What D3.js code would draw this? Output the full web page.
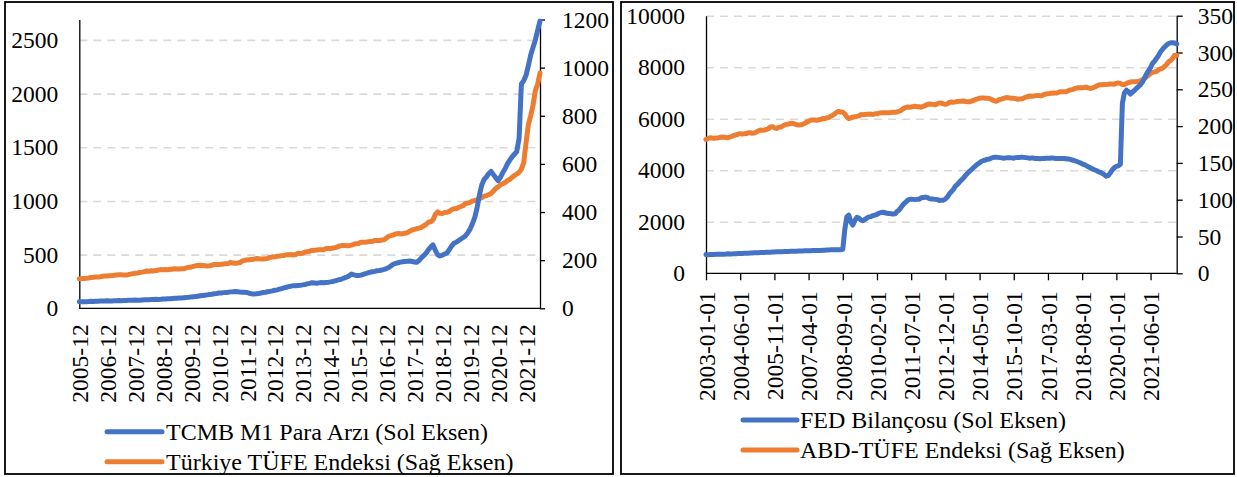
<!DOCTYPE html>
<html>
<head>
<meta charset="utf-8">
<script src="https://cdn.jsdelivr.net/npm/d3@7"></script>
<style>
  body { margin: 0; background: #fff; }
  svg { display: block; }
</style>
</head>
<body>
<svg id="chart" width="1237" height="477"></svg>
<script>
// ---------- Türkiye: monthly, 2005-12 .. 2022-06 ----------
const trStart = "2005-12";
const trM1 = [61,
  60, 61, 62, 63, 65, 64, 66, 65, 67, 68, 68, 70,
  68, 69, 70, 71, 72, 71, 73, 72, 74, 74, 75, 77,
  75, 76, 78, 79, 80, 79, 81, 82, 84, 83, 84, 87,
  86, 88, 89, 91, 93, 94, 96, 97, 99, 101, 103, 106,
  108, 110, 113, 116, 119, 122, 125, 128, 131, 135, 138, 142,
  143, 146, 148, 150, 153, 154, 156, 155, 152, 150, 149, 148,
  140, 136, 133, 135, 138, 142, 147, 150, 154, 158, 162, 168,
  172, 178, 184, 190, 196, 202, 206, 211, 210, 213, 215, 218,
  222, 227, 232, 238, 236, 234, 237, 240, 238, 241, 243, 246,
  250, 256, 262, 268, 275, 283, 292, 302, 319, 312, 306, 305,
  309, 315, 322, 330, 336, 340, 344, 350, 352, 356, 362, 370,
  380, 395, 412, 418, 424, 430, 433, 436, 438, 440, 436, 432,
  428, 445, 470, 490, 512, 545, 570, 590, 540, 500, 487, 495,
  505, 515, 545, 580, 605, 615, 630, 645, 660, 675, 705, 740,
  790, 850, 940, 1060, 1150, 1200, 1225, 1255, 1275, 1245, 1215, 1190,
  1220, 1265, 1300, 1345, 1380, 1410, 1435, 1460, 1580, 2090, 2120, 2170,
  2260, 2360, 2430, 2500, 2590, 2675];
const trCPI = [122.65,
  123.57, 124.18, 124.56, 126.11, 128.20, 128.63, 130.12, 129.89, 131.05, 132.90, 134.04, 134.49,
  135.23, 135.99, 137.18, 138.60, 139.03, 138.93, 138.25, 138.19, 139.62, 142.09, 144.00, 145.77,
  146.94, 148.84, 150.27, 152.52, 155.13, 154.31, 155.91, 155.40, 156.84, 159.25, 160.82, 160.44,
  160.90, 160.35, 162.12, 162.15, 164.58, 163.78, 163.29, 163.93, 164.68, 167.71, 170.22, 170.91,
  174.07, 176.59, 177.62, 178.68, 178.04, 177.04, 176.19, 176.90, 179.07, 182.35, 182.40, 181.85,
  182.60, 183.93, 184.70, 186.30, 190.81, 188.08, 187.31, 188.42, 190.09, 196.31, 199.70, 200.85,
  201.98, 203.12, 203.96, 206.65, 206.34, 204.76, 204.58, 205.43, 207.72, 211.38, 214.02, 213.23,
  216.74, 217.39, 218.83, 219.75, 222.21, 222.54, 223.20, 221.64, 223.70, 228.57, 227.58, 229.01,
  233.54, 234.54, 237.18, 240.37, 241.32, 242.07, 243.17, 243.40, 243.74, 248.37, 248.78, 247.72,
  250.45, 252.24, 255.23, 259.39, 260.85, 260.50, 260.04, 260.36, 262.63, 266.18, 268.65, 269.54,
  274.45, 274.36, 274.46, 276.08, 277.63, 278.26, 281.92, 281.62, 281.88, 284.03, 285.21, 292.54,
  299.74, 302.17, 305.24, 309.23, 310.61, 309.78, 310.24, 311.85, 313.87, 320.40, 325.19, 327.41,
  330.75, 333.17, 336.48, 342.78, 348.34, 357.43, 359.40, 366.76, 389.78, 400.71, 395.00, 393.88,
  398.07, 398.71, 402.81, 409.62, 413.51, 413.67, 419.31, 422.91, 427.10, 435.64, 437.29, 440.50,
  446.45, 448.01, 450.57, 454.43, 460.60, 465.80, 468.50, 472.53, 477.21, 487.38, 498.58, 504.81,
  513.30, 517.54, 522.44, 531.31, 535.77, 544.30, 551.57, 557.90, 564.97, 578.47, 604.84, 686.95,
  763.23, 799.93, 843.64, 904.79, 931.76, 977.90];
const trTickLabels = ["2005-12", "2006-12", "2007-12", "2008-12", "2009-12", "2010-12",
  "2011-12", "2012-12", "2013-12", "2014-12", "2015-12", "2016-12", "2017-12", "2018-12",
  "2019-12", "2020-12", "2021-12"];
const trLeftTicks = [0, 500, 1000, 1500, 2000, 2500];
const trRightTicks = [0, 200, 400, 600, 800, 1000, 1200];
const trLegend = ["TCMB M1 Para Arzı (Sol Eksen)", "Türkiye TÜFE Endeksi (Sağ Eksen)"];

// ---------- ABD: monthly, 2003-01 .. 2022-07 ----------
const usStart = "2003-01";
const fedAssets = [
  725, 722, 726, 731, 734, 736, 735, 737, 740, 744, 748, 755,
  752, 754, 758, 763, 768, 770, 772, 775, 779, 783, 788, 792,
  796, 797, 800, 803, 806, 810, 813, 815, 819, 823, 828, 833,
  834, 836, 840, 843, 846, 849, 852, 853, 856, 860, 864, 868,
  870, 872, 874, 877, 880, 882, 884, 886, 884, 887, 891, 894,
  900, 905, 910, 912, 910, 912, 915, 918, 935, 1700, 2190, 2260,
  1990, 1875, 2050, 2170, 2140, 2070, 2040, 2090, 2150, 2190, 2200, 2240,
  2260, 2290, 2330, 2360, 2370, 2350, 2330, 2320, 2310, 2300, 2310, 2400,
  2460, 2560, 2670, 2740, 2820, 2870, 2880, 2870, 2860, 2870, 2870, 2930,
  2940, 2960, 2940, 2900, 2880, 2880, 2870, 2860, 2830, 2840, 2840, 2880,
  2960, 3080, 3170, 3260, 3380, 3450, 3540, 3620, 3700, 3800, 3880, 3960,
  4030, 4100, 4170, 4240, 4290, 4350, 4380, 4400, 4430, 4440, 4480, 4500,
  4510, 4500, 4490, 4480, 4470, 4480, 4490, 4490, 4480, 4470, 4490, 4500,
  4500, 4510, 4500, 4490, 4480, 4470, 4480, 4470, 4460, 4460, 4450, 4460,
  4460, 4470, 4470, 4470, 4480, 4470, 4460, 4460, 4460, 4460, 4460, 4450,
  4440, 4420, 4400, 4380, 4350, 4320, 4290, 4250, 4220, 4180, 4140, 4100,
  4060, 4020, 3990, 3950, 3920, 3880, 3830, 3770, 3790, 3900, 4020, 4100,
  4150, 4170, 4240, 6600, 7000, 7110, 7050, 6960, 7030, 7100, 7180, 7250,
  7320, 7430, 7580, 7740, 7860, 7990, 8150, 8240, 8350, 8460, 8600, 8700,
  8790, 8860, 8920, 8950, 8950, 8940, 8900];
const usCPI = [
  181.7, 183.1, 184.2, 183.8, 183.5, 183.7, 183.9, 184.6, 185.2, 185.0, 184.5, 184.3,
  185.2, 186.2, 187.4, 188.0, 189.1, 189.7, 189.4, 189.5, 189.9, 190.9, 191.0, 190.3,
  190.7, 191.8, 193.3, 194.6, 194.4, 194.5, 195.4, 196.4, 198.8, 199.2, 197.6, 196.8,
  198.3, 198.7, 199.8, 201.5, 202.5, 202.9, 203.5, 203.9, 202.9, 201.8, 201.5, 201.8,
  202.4, 203.5, 205.4, 206.7, 207.9, 208.4, 208.3, 207.9, 208.5, 208.9, 210.2, 210.0,
  211.1, 211.7, 213.5, 214.8, 216.6, 218.8, 220.0, 219.1, 218.8, 216.6, 212.4, 210.2,
  211.1, 212.2, 212.7, 213.2, 213.9, 215.7, 215.4, 215.8, 216.0, 216.2, 216.3, 215.9,
  216.7, 216.7, 217.6, 218.0, 218.2, 218.0, 218.0, 218.3, 218.4, 218.7, 218.8, 219.2,
  220.2, 221.3, 223.5, 224.9, 226.0, 225.7, 225.9, 226.5, 226.9, 226.4, 226.2, 225.7,
  226.7, 227.7, 229.4, 230.1, 229.8, 229.5, 229.1, 230.4, 231.4, 231.3, 230.2, 229.6,
  230.3, 232.2, 232.8, 232.5, 232.9, 233.5, 233.6, 233.9, 234.1, 233.5, 233.1, 233.0,
  233.9, 234.8, 236.3, 237.1, 237.9, 238.3, 238.3, 237.9, 238.0, 237.4, 236.2, 234.8,
  233.7, 234.7, 236.1, 236.6, 237.8, 238.6, 238.7, 238.3, 237.9, 237.8, 237.3, 236.5,
  236.9, 237.1, 238.1, 239.3, 240.2, 241.0, 240.6, 240.8, 241.4, 241.7, 241.4, 241.4,
  242.8, 243.6, 243.8, 244.5, 244.7, 245.0, 244.8, 245.5, 246.8, 246.7, 246.7, 246.5,
  247.9, 249.0, 249.6, 250.5, 251.6, 252.0, 252.0, 252.1, 252.4, 252.9, 252.0, 251.2,
  251.7, 252.8, 254.2, 255.5, 256.1, 256.1, 256.6, 256.6, 256.8, 257.3, 257.2, 257.0,
  258.0, 258.7, 258.1, 256.4, 256.4, 257.8, 259.1, 259.9, 260.3, 260.4, 260.2, 260.5,
  261.6, 263.0, 264.9, 267.1, 269.2, 271.7, 273.0, 273.6, 274.3, 276.6, 277.9, 278.8,
  281.1, 283.7, 287.5, 289.1, 292.3, 296.3, 296.3];
const usTickLabels = ["2003-01-01", "2004-06-01", "2005-11-01", "2007-04-01", "2008-09-01",
  "2010-02-01", "2011-07-01", "2012-12-01", "2014-05-01", "2015-10-01", "2017-03-01",
  "2018-08-01", "2020-01-01", "2021-06-01"];
const usLeftTicks = [0, 2000, 4000, 6000, 8000, 10000];
const usRightTicks = [0, 50, 100, 150, 200, 250, 300, 350];
const usLegend = ["FED Bilançosu (Sol Eksen)", "ABD-TÜFE Endeksi (Sağ Eksen)"];

const BLUE = "#4472C4", ORANGE = "#ED7D31";
const SERIF = '"Liberation Serif", "Times New Roman", serif';
const TICK_FONT = 23.5, LEGEND_FONT = 24;

// month categories from a start month and a count
function monthCategories(start, n, fmt) {
  const t0 = d3.timeParse("%Y-%m")(start);
  const t1 = d3.timeMonth.offset(t0, n);
  return d3.timeMonth.range(t0, t1).map(d3.timeFormat(fmt));
}

const svg = d3.select("#chart");

function drawPanel(cfg) {
  const g = svg.append("g");
  g.append("rect")
    .attr("x", cfg.box[0]).attr("y", cfg.box[1])
    .attr("width", cfg.box[2]).attr("height", cfg.box[3])
    .attr("fill", "#fff").attr("stroke", "#000").attr("stroke-width", 1.8);

  const [x0, x1, yT, yB] = cfg.plot;
  const x = d3.scalePoint().domain(cfg.categories).range([x0, x1]);
  const yL = d3.scaleLinear().domain(cfg.leftDomain).range([yB, yT]);
  const yR = d3.scaleLinear().domain(cfg.rightDomain).range([yB, yT]);

  // dashed horizontal gridlines on the left-axis ticks
  const grid = g.append("g").attr("transform", `translate(${x0},0)`)
    .call(d3.axisLeft(yL).tickValues(cfg.leftTicks.filter(v => v > 0))
      .tickSize(-(x1 - x0)).tickFormat(""));
  grid.select(".domain").remove();
  grid.selectAll("line").attr("stroke", "#d9d9d9").attr("stroke-width", 1.6)
    .attr("stroke-dasharray", "8,6");

  // left axis (labels only, no tick marks)
  const axL = g.append("g").attr("transform", `translate(${x0},0)`)
    .call(d3.axisLeft(yL).tickValues(cfg.leftTicks).tickSize(0).tickSizeOuter(0)
      .tickPadding(cfg.padL).tickFormat(d3.format("d")));
  // right axis
  const axR = g.append("g").attr("transform", `translate(${x1},0)`)
    .call(d3.axisRight(yR).tickValues(cfg.rightTicks).tickSize(cfg.tickR).tickSizeOuter(0)
      .tickPadding(cfg.padR).tickFormat(d3.format("d")));
  // category axis
  const axB = g.append("g").attr("transform", `translate(0,${yB})`)
    .call(d3.axisBottom(x).tickValues(cfg.tickLabels).tickSize(cfg.tickB).tickSizeOuter(0));
  axB.selectAll("text")
    .attr("transform", "rotate(-90)")
    .attr("text-anchor", "end")
    .attr("x", -cfg.labelGap).attr("y", 0).attr("dy", "0.35em");

  [axL, axR, axB].forEach(a => {
    a.attr("font-family", null).attr("font-size", null);
    a.selectAll("text").style("font-family", SERIF)
      .style("font-size", TICK_FONT + "px").attr("fill", "#000");
    a.selectAll(".domain, line").attr("stroke", "#000").attr("stroke-width", 1.3);
  });
  axB.select(".domain").attr("d", `M${x0},0H${x1}`);

  const lineL = d3.line().x((d, i) => x(cfg.categories[i])).y(d => yL(d));
  const lineR = d3.line().x((d, i) => x(cfg.categories[i])).y(d => yR(d));
  g.append("path").datum(cfg.right).attr("d", lineR)
    .attr("fill", "none").attr("stroke", ORANGE).attr("stroke-width", cfg.lw)
    .attr("stroke-linejoin", "round").attr("stroke-linecap", "round");
  g.append("path").datum(cfg.left).attr("d", lineL)
    .attr("fill", "none").attr("stroke", BLUE).attr("stroke-width", cfg.lw)
    .attr("stroke-linejoin", "round").attr("stroke-linecap", "round");

  // legend
  const colors = [BLUE, ORANGE];
  cfg.legend.forEach((name, i) => {
    const ly = cfg.legendY[i];
    g.append("line").attr("x1", cfg.legendX[0]).attr("x2", cfg.legendX[1])
      .attr("y1", ly).attr("y2", ly).attr("stroke", colors[i])
      .attr("stroke-width", 5).attr("stroke-linecap", "round");
    g.append("text").attr("x", cfg.legendX[2]).attr("y", ly).attr("dy", "0.35em")
      .style("font-family", SERIF).style("font-size", LEGEND_FONT + "px")
      .attr("fill", "#000").text(name);
  });
}

drawPanel({
  box: [5, 2, 608, 472],
  plot: [79.3, 540, 19.5, 308.3],
  categories: monthCategories(trStart, trM1.length, "%Y-%m"),
  left: trM1, right: trCPI,
  leftDomain: [0, 2690], rightDomain: [0, 1200],
  leftTicks: trLeftTicks, rightTicks: trRightTicks,
  tickLabels: trTickLabels,
  padL: 21, tickR: 5, padR: 17, tickB: 0, labelGap: 16,
  lw: 5,
  legend: trLegend, legendX: [107, 162, 166], legendY: [431.7, 461.7]
});

drawPanel({
  box: [621, 2, 613, 472],
  plot: [706, 1176.7, 15.7, 273.3],
  categories: monthCategories(usStart, fedAssets.length, "%Y-%m-%d"),
  left: fedAssets, right: usCPI,
  leftDomain: [0, 10000], rightDomain: [0, 350],
  leftTicks: usLeftTicks, rightTicks: usRightTicks,
  tickLabels: usTickLabels,
  padL: 21, tickR: 6, padR: 15, tickB: 7, labelGap: 18,
  lw: 5,
  legend: usLegend, legendX: [743, 797, 800], legendY: [420, 450]
});
</script>
</body>
</html>
